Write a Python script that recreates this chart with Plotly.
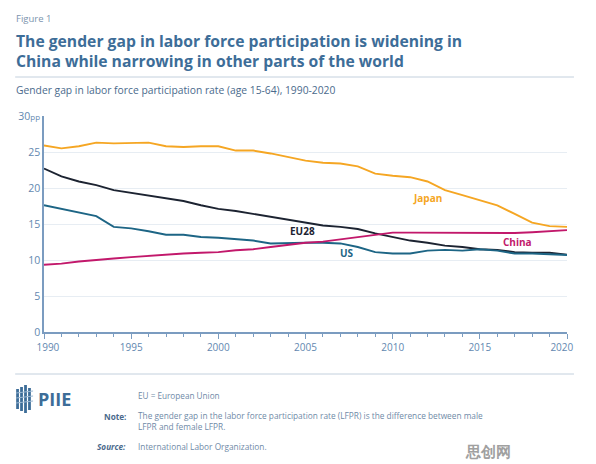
import plotly.graph_objects as go

years = list(range(1990, 2021))
japan = [25.9, 25.5, 25.8, 26.3, 26.2, 26.2, 26.3, 25.8, 25.7, 25.8, 25.8, 25.2, 25.2, 24.8, 24.3, 23.8,
         23.5, 23.4, 23.0, 22.0, 21.7, 21.5, 20.9, 19.7, 19.0, 18.3, 17.6, 16.4, 15.2, 14.7, 14.6]
eu28 = [22.7, 21.6, 20.9, 20.4, 19.7, 19.3, 18.9, 18.6, 18.2, 17.6, 17.1, 16.8, 16.4, 16.0, 15.5, 15.2,
        14.8, 14.6, 14.3, 13.7, 13.2, 12.7, 12.4, 12.0, 11.8, 11.5, 11.4, 11.1, 11.0, 11.0, 10.75]
us = [17.6, 17.1, 16.6, 16.1, 14.6, 14.4, 14.0, 13.5, 13.5, 13.2, 13.1, 12.9, 12.7, 12.3, 12.4, 12.4,
      12.4, 12.3, 11.8, 11.1, 10.9, 10.9, 11.3, 11.4, 11.3, 11.5, 11.3, 10.9, 10.9, 10.85, 10.7]
china = [9.35, 9.5, 9.8, 9.95, 10.2, 10.4, 10.6, 10.75, 10.9, 11.0, 11.1, 11.35, 11.5, 11.8, 12.1, 12.4,
         12.55, 12.85, 13.15, 13.5, 13.8, 13.8, 13.8, 13.75, 13.75, 13.7, 13.7, 13.75, 13.85, 14.0, 14.15]

series_names = ["Japan", "EU28", "US", "China"]
series_values = [japan, eu28, us, china]
series_colors = ["#f5a623", "#1c2331", "#1d6585", "#c2186b"]
label_pos = [(2012.0, 18.6), (2004.85, 14.0), (2007.4, 11.0), (2017.15, 12.5)]

y_tickvals = [0, 5, 10, 15, 20, 25, 30]
y_ticktext = ["0", "5", "10", "15", "20", "25", "30<span style='font-size:8px'>pp</span>"]
x_tickvals = [1990, 1995, 2000, 2005, 2010, 2015, 2020]
x_ticktext = ["\u00a0\u00a0\u00a01990", "1995", "2000", "2005", "2010", "2015", "2020\u00a0\u00a0\u00a0\u00a0"]

W, H = 596, 464
L, R, T, B = 44, 26, 116, 132
PW, PH = W - L - R, H - T - B

def px(x):
    return (x - L) / PW

def py(y):
    return (H - B - y) / PH

FONT = "Open Sans"
BLUE = "#3d6d98"
TICK = "#6388b0"
AXIS = "#7b9cc0"

fig = go.Figure()
for name, vals, col in zip(series_names, series_values, series_colors):
    fig.add_trace(go.Scatter(x=years, y=vals, mode="lines", name=name,
                             line=dict(color=col, width=1.9), showlegend=False))

annotations = []
for name, (lx, ly), col in zip(series_names, label_pos, series_colors):
    annotations.append(dict(x=lx, y=ly, xref="x", yref="y", text="<b>" + name + "</b>",
                            showarrow=False, font=dict(family=FONT, size=10, color=col)))

def txt(x, y, text, size, color, xanchor="left", yanchor="middle", bold=False, italic=False):
    t = text
    if bold:
        t = "<b>" + t + "</b>"
    if italic:
        t = "<i>" + t + "</i>"
    annotations.append(dict(x=px(x), y=py(y), xref="paper", yref="paper", text=t, showarrow=False,
                            xanchor=xanchor, yanchor=yanchor, align="left",
                            font=dict(family=FONT, size=size, color=color)))

txt(14, 19, "Figure 1", 9.5, "#7c94ae")
txt(14, 51, "The gender gap in labor force participation is widening in<br>"
            "China while narrowing in other parts of the world", 15.7, BLUE, bold=True)
txt(14, 90, "Gender gap in labor force participation rate (age 15-64), 1990-2020", 10.3, "#4a6a8c")
txt(137, 395, "EU = European Union", 8.2, "#6f8aa7")
txt(128, 416, "Note:", 8.2, "#4a6a8c", xanchor="right", bold=True)
txt(137, 421, "The gender gap in the labor force participation rate (LFPR) is the difference between male<br>"
              "LFPR and female LFPR.", 8.3, "#6f8aa7")
txt(128, 446, "Source:", 8.2, "#4a6a8c", xanchor="right", bold=True, italic=True)
txt(137, 446, "International Labor Organization.", 8.3, "#6f8aa7")
txt(36, 399, "PIIE", 18, BLUE, bold=True)
txt(491, 451, "思创网", 15, "#a0a0a0", xanchor="center", bold=True)

shapes = []
shapes.append(dict(type="line", xref="paper", yref="paper", x0=px(15), x1=px(577), y0=py(77), y1=py(77),
                   line=dict(color="#c3d0dd", width=1)))
shapes.append(dict(type="line", xref="paper", yref="paper", x0=px(15), x1=px(577), y0=py(374), y1=py(374),
                   line=dict(color="#c3d0dd", width=1)))
for x0, y0, y1 in [(16, 389, 409), (20, 387, 411), (24, 385, 413), (28, 388, 410)]:
    shapes.append(dict(type="rect", xref="paper", yref="paper", x0=px(x0), x1=px(x0 + 2.8),
                       y0=py(y1), y1=py(y0), fillcolor=BLUE, line=dict(width=0)))
for yy in [393, 398, 403]:
    shapes.append(dict(type="line", xref="paper", yref="paper", x0=px(16), x1=px(33), y0=py(yy), y1=py(yy - 2),
                       line=dict(color="#9bb8d3", width=1)))

fig.update_layout(
    width=W, height=H,
    margin=dict(l=L, r=R, t=T, b=B),
    paper_bgcolor="white", plot_bgcolor="white",
    annotations=annotations, shapes=shapes,
    font=dict(family=FONT, color=TICK),
    xaxis=dict(range=[1990, 2020], tickvals=x_tickvals, ticktext=x_ticktext, ticks="outside", ticklen=5,
               tickcolor=AXIS, showline=True, linecolor=AXIS, linewidth=1.5, showgrid=False, zeroline=False,
               tickfont=dict(family=FONT, size=10, color=TICK),
               minor=dict(dtick=1, ticks="outside", ticklen=3, tickcolor=AXIS)),
    yaxis=dict(range=[0, 30], tickvals=y_tickvals, ticktext=y_ticktext, showline=True, linecolor=AXIS,
               linewidth=1.5, showgrid=True, gridcolor="#e7edf3", gridwidth=1, zeroline=False,
               ticks="", tickfont=dict(family=FONT, size=10.5, color=TICK)),
)

fig.write_html("out.html", config={"displayModeBar": False},
               post_script="document.body.style.margin='0';document.body.style.overflow='hidden';")
